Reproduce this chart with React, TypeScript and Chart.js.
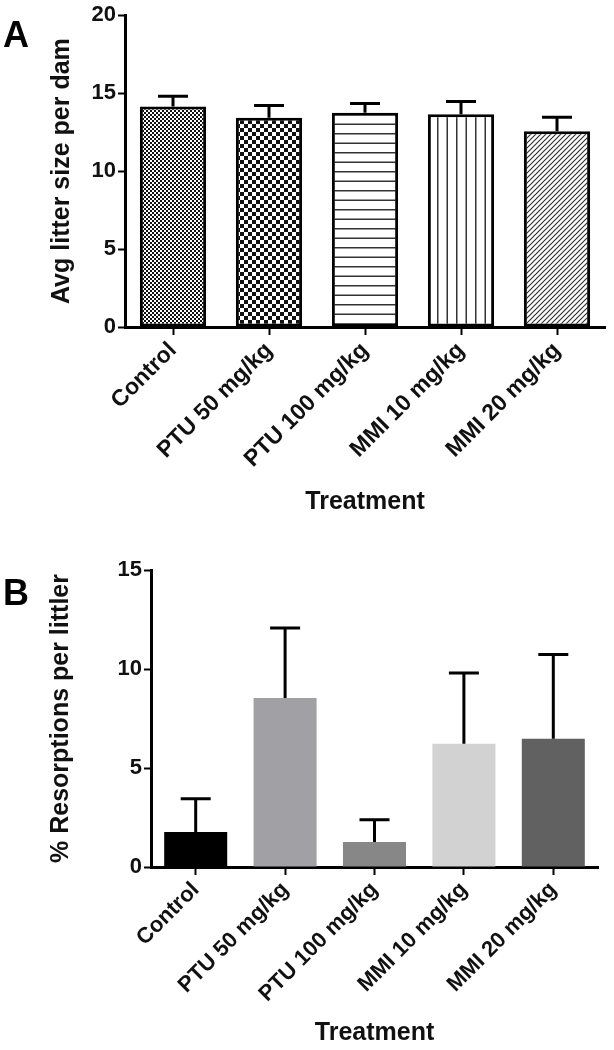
import React, { useEffect, useRef } from 'react';
import { Chart, registerables } from 'chart.js';
Chart.register(...registerables);

const categories = ['Control', 'PTU 50 mg/kg', 'PTU 100 mg/kg', 'MMI 10 mg/kg', 'MMI 20 mg/kg'];
const litterMean = [14.15, 13.42, 13.75, 13.65, 12.55];
const litterSem = [0.65, 0.78, 0.58, 0.81, 0.9];
const resorptionMean = [1.77, 8.54, 1.26, 6.23, 6.48];
const resorptionSem = [1.68, 3.53, 1.13, 3.57, 4.25];
const litterTicks = [0, 5, 10, 15, 20];
const resorptionTicks = [0, 5, 10, 15];
const patternKinds = ['fineChecker', 'checker', 'hLines', 'vLines', 'diagonal'];
const resorptionColors = ['#000000', '#a1a1a5', '#878787', '#d2d2d2', '#616161'];

const FONT = 'Liberation Sans, Arial, Helvetica, sans-serif';

function makePattern(ctxRef: CanvasRenderingContext2D, kind: string): CanvasPattern | string {
  const c = document.createElement('canvas');
  let w = 4, h = 4;
  if (kind === 'fineChecker') { w = 4; h = 4; }
  else if (kind === 'checker') { w = 8; h = 8; }
  else if (kind === 'hLines') { w = 4; h = 19; }
  else if (kind === 'vLines') { w = 19; h = 4; }
  else if (kind === 'diagonal') { w = 5; h = 5; }
  c.width = w; c.height = h;
  const g = c.getContext('2d')!;
  g.fillStyle = '#ffffff';
  g.fillRect(0, 0, w, h);
  g.fillStyle = '#111111';
  g.strokeStyle = '#333333';
  if (kind === 'fineChecker') {
    g.fillRect(0, 0, 2, 2); g.fillRect(2, 2, 2, 2);
  } else if (kind === 'checker') {
    g.fillRect(0, 0, 4, 4); g.fillRect(4, 4, 4, 4);
  } else if (kind === 'hLines') {
    g.fillStyle = '#333333';
    g.fillRect(0, 0, w, 1.5); g.fillRect(0, 9.5, w, 1.5);
  } else if (kind === 'vLines') {
    g.fillStyle = '#333333';
    g.fillRect(0, 0, 1.5, h); g.fillRect(9.5, 0, 1.5, h);
  } else if (kind === 'diagonal') {
    g.lineWidth = 1.2;
    g.beginPath();
    g.moveTo(-1, 6); g.lineTo(6, -1);
    g.moveTo(-1, 1); g.lineTo(1, -1);
    g.moveTo(4, 6); g.lineTo(6, 4);
    g.stroke();
  }
  return ctxRef.createPattern(c, 'repeat') || '#ffffff';
}

const errorBarPlugin = {
  id: 'errorBars',
  afterDatasetsDraw(chart: any, _args: any, opts: any) {
    const { means, errors, capHalf, lineWidth } = opts;
    if (!means) return;
    const ctx = chart.ctx;
    const xs = chart.scales.x;
    const ys = chart.scales.y;
    ctx.save();
    ctx.strokeStyle = '#000000';
    ctx.lineWidth = lineWidth;
    ctx.lineCap = 'butt';
    for (let i = 0; i < means.length; i++) {
      const x = xs.getPixelForValue(i);
      const y0 = ys.getPixelForValue(means[i]);
      const y1 = ys.getPixelForValue(means[i] + errors[i]);
      ctx.beginPath();
      ctx.moveTo(x, y0);
      ctx.lineTo(x, y1);
      ctx.moveTo(x - capHalf, y1);
      ctx.lineTo(x + capHalf, y1);
      ctx.stroke();
    }
    ctx.restore();
  },
};

function buildConfig(opts: {
  means: number[]; errors: number[]; bg: any[]; border: boolean; ticks: number[]; max: number;
  yTitle: string; yWidth: number; xHeight: number; pad: any; barPct: number;
  tickFont: number; xTickFont: number; titleFont: number; yTitlePad: number; xTitlePad: number; capHalf: number;
  yTickPad: number; xTickPad: number;
}) {
  return {
    type: 'bar',
    data: {
      labels: categories,
      datasets: [{
        data: opts.means,
        backgroundColor: opts.bg,
        borderColor: '#000000',
        borderWidth: opts.border ? 3 : 0,
        borderSkipped: false,
        barPercentage: opts.barPct,
        categoryPercentage: 1,
      }],
    },
    options: {
      animation: false,
      responsive: false,
      maintainAspectRatio: false,
      layout: { padding: opts.pad },
      plugins: {
        legend: { display: false },
        tooltip: { enabled: false },
        errorBars: { means: opts.means, errors: opts.errors, capHalf: opts.capHalf, lineWidth: 3 },
      },
      scales: {
        x: {
          grid: { display: true, drawOnChartArea: false, offset: false, tickLength: 8, tickWidth: 2, tickColor: '#000000' },
          border: { display: true, color: '#000000', width: 3 },
          ticks: { minRotation: 45, maxRotation: 45, autoSkip: false, color: '#111111', padding: opts.xTickPad, font: { family: FONT, size: opts.xTickFont, weight: 'bold' } },
          title: { display: true, text: 'Treatment', color: '#111111', font: { family: FONT, size: opts.titleFont, weight: 'bold' }, padding: { top: 0, bottom: opts.xTitlePad } },
          afterFit: (s: any) => { s.height = opts.xHeight; },
        },
        y: {
          min: 0,
          max: opts.max,
          afterBuildTicks: (s: any) => { s.ticks = opts.ticks.map((v) => ({ value: v })); },
          grid: { display: true, drawOnChartArea: false, tickLength: 7, tickWidth: 2, tickColor: '#000000' },
          border: { display: true, color: '#000000', width: 3 },
          ticks: { color: '#111111', padding: opts.yTickPad, font: { family: FONT, size: opts.tickFont, weight: 'bold' } },
          title: { display: true, text: opts.yTitle, color: '#111111', font: { family: FONT, size: opts.titleFont, weight: 'bold' }, padding: { top: opts.yTitlePad, bottom: 0 } },
          afterFit: (s: any) => { s.width = opts.yWidth; },
        },
      },
    },
    plugins: [errorBarPlugin],
  };
}

export default function App() {
  const refA = useRef<HTMLCanvasElement>(null);
  const refB = useRef<HTMLCanvasElement>(null);

  useEffect(() => {
    const ctxA = refA.current!.getContext('2d')!;
    const patterns = patternKinds.map((k) => makePattern(ctxA, k));
    const chartA = new Chart(refA.current!, buildConfig({
      means: litterMean, errors: litterSem, bg: patterns, border: true, ticks: litterTicks, max: 20,
      yTitle: 'Avg litter size per dam', yWidth: 125, xHeight: 213, pad: { top: 12, right: 9, left: 0, bottom: 0 },
      barPct: 0.69, tickFont: 22, xTickFont: 23, titleFont: 25, yTitlePad: 47, xTitlePad: 23, capHalf: 15,
      yTickPad: 2, xTickPad: 2,
    }) as any);
    const chartB = new Chart(refB.current!, buildConfig({
      means: resorptionMean, errors: resorptionSem, bg: resorptionColors, border: false, ticks: resorptionTicks, max: 15,
      yTitle: '% Resorptions per littler', yWidth: 151, xHeight: 183, pad: { top: 30, right: 16, left: 0, bottom: 0 },
      barPct: 0.705, tickFont: 22, xTickFont: 22, titleFont: 25, yTitlePad: 46, xTitlePad: 2, capHalf: 15,
      yTickPad: 2, xTickPad: 2,
    }) as any);
    return () => { chartA.destroy(); chartB.destroy(); };
  }, []);

  const letter: React.CSSProperties = {
    position: 'absolute', left: 3, fontFamily: FONT, fontWeight: 'bold', fontSize: 36, lineHeight: '36px', color: '#000',
  };

  return (
    <div style={{ position: 'absolute', left: 0, top: 0, width: 614, height: 1050, background: '#ffffff' }}>
      <canvas ref={refA} width={614} height={540} style={{ position: 'absolute', left: 0, top: 0, display: 'block' }} />
      <canvas ref={refB} width={614} height={510} style={{ position: 'absolute', left: 0, top: 540, display: 'block' }} />
      <div style={{ ...letter, top: 17 }}>A</div>
      <div style={{ ...letter, top: 575 }}>B</div>
    </div>
  );
}
